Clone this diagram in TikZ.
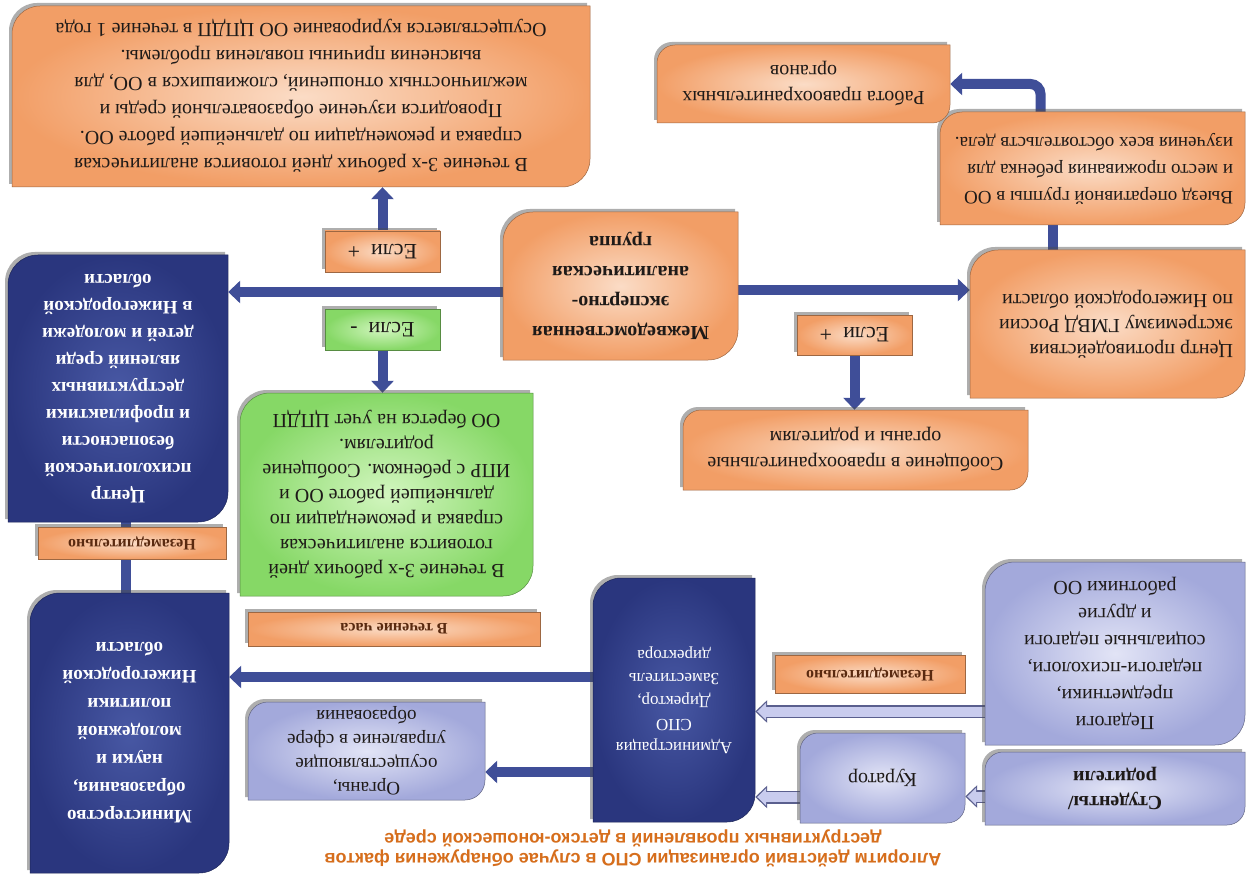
\documentclass[tikz,border=0pt]{standalone}
\usepackage{fontspec}
\setmainfont{Liberation Serif}
\newfontfamily\ttlfont{Liberation Sans}
\usetikzlibrary{arrows.meta,shadows,calc}
\pgfdeclarelayer{back}
\pgfdeclarelayer{bg}
\pgfsetlayers{back,bg,main}
\definecolor{orO}{HTML}{F29E66}
\definecolor{orI}{HTML}{FBDCC6}
\definecolor{grO}{HTML}{86D866}
\definecolor{grI}{HTML}{D2F6BF}
\definecolor{dbO}{HTML}{2A367E}
\definecolor{dbI}{HTML}{4858A4}
\definecolor{lvO}{HTML}{A3A9DB}
\definecolor{lvI}{HTML}{E2E4F6}
\definecolor{arB}{HTML}{3F4E98}
\definecolor{lvD}{HTML}{5A5F8E}
\definecolor{lvF}{HTML}{C9CCEE}
\definecolor{brn}{HTML}{5A2A10}
\definecolor{ttl}{HTML}{D66E1C}
\definecolor{txt}{HTML}{1E1A18}
\tikzset{
 shad/.style={drop shadow={shadow xshift=-3pt, shadow yshift=3pt, opacity=0.45, fill=black!70}},
 orbox/.style={shad, inner color=orI, outer color=orO, draw=orO!65!black, line width=0.5pt},
 grbox/.style={shad, inner color=grI, outer color=grO, draw=grO!65!black, line width=0.5pt},
 dbbox/.style={shad, inner color=dbI, outer color=dbO, draw=dbO!70!black, line width=0.5pt},
 lvbox/.style={shad, inner color=lvI, outer color=lvO, draw=lvO!60!black, line width=0.5pt},
 barrow/.style={draw=arB, line width=10pt, -{Triangle[length=12pt,width=22pt]}},
 bline/.style={draw=arB, line width=10pt},
 lvout/.style={draw=lvD, line width=13pt, -{Triangle[length=12pt,width=22pt]}},
 lvin/.style={draw=lvF, line width=10pt, shorten >=2pt, -{Triangle[length=9pt,width=17pt]}},
}
\newcommand\dshape[6]{\path[#1] (#2,#3+#6) arc[start angle=180,end angle=90,radius=#6pt] -- (#4,#3) -- (#4,#5-#6) arc[start angle=0,end angle=-90,radius=#6pt] -- (#2,#5) -- cycle;}
\newcommand\bx[9]{%
 \dshape{#6}{#2}{#3}{#4}{#5}{#7}%
 \node[inner sep=0pt, minimum width={(#4-#2)*1pt}, minimum height={(#5-#3)*1pt}] (#1) at ({(#2+#4)/2},{(#3+#5)/2}) {\rotatebox{180}{\parbox{\dimexpr #4pt-#2pt-24pt\relax}{\color{txt}#8#9}}};}
\newcommand\lb[8]{%
 \path[#6] (#2,#3) rectangle (#4,#5);%
 \node[inner sep=0pt, minimum width={(#4-#2)*1pt}, minimum height={(#5-#3)*1pt}] (#1) at ({(#2+#4)/2},{(#3+#5)/2}) {\rotatebox{180}{\color{txt}#7#8}};}
\newcommand\larr[2]{\draw[lvout] #1 -- #2; \draw[lvin] #1 -- #2;}
\begin{document}
\begin{tikzpicture}[x=1pt,y=-1pt]
\begin{pgfonlayer}{back}
\fill[white] (0,0) rectangle (1252,877);
\end{pgfonlayer}
\path[use as bounding box] (0,0) rectangle (1252,877);

\bx{T1}{12}{6}{590}{187}{orbox}{28}{\centering\fontsize{20}{27}\selectfont}{В течение 3-х рабочих дней готовится аналитическая\\справка и рекомендации по дальнейшей работе ОО.\\Проводится изучение образовательной среды и\\межличностных отношений, сложившихся в ОО, для\\выяснения причины появления проблемы.\\Осуществляется курирование ОО ЦПДП в течение 1 года}
\lb{L1}{325}{231}{440}{272}{orbox}{\fontsize{22}{24}\selectfont}{Если\enspace +}
\lb{L2}{325}{309}{440}{350}{grbox}{\fontsize{22}{24}\selectfont}{Если\enspace -}
\bx{M}{503}{212}{738}{360}{orbox}{30}{\centering\bfseries\fontsize{20}{30}\selectfont}{Межведомственная\\экспертно-\\аналитическая\\группа}
\bx{C1}{970}{250}{1245}{398}{orbox}{28}{\raggedright\fontsize{20}{25}\selectfont}{Центр противодействия\\экстремизму ГМВД России\\по Нижегородской области}
\lb{L3}{797}{315}{912}{355}{orbox}{\fontsize{22}{24}\selectfont}{Если\enspace +}
\bx{S}{683}{410}{1028}{490}{orbox}{18}{\centering\fontsize{20}{26}\selectfont}{Сообщение в правоохранительные\\органы и родителям}
\bx{V}{940}{112}{1245}{225}{orbox}{22}{\raggedright\fontsize{19}{27}\selectfont}{Выезд оперативной группы в ОО\\и место проживания ребенка для\\изучения всех обстоятельств дела.}
\bx{W}{657}{45}{950}{123}{orbox}{18}{\centering\fontsize{20}{26}\selectfont}{Работа правоохранительных\\органов}
\bx{BC}{8}{255}{228}{522}{dbbox}{30}{\centering\bfseries\color{white}\fontsize{19}{27}\selectfont}{Центр\\психологической\\безопасности\\и профилактики\\деструктивных\\явлений среди\\детей и молодежи\\в Нижегородской\\области}
\lb{L4}{38}{527}{226}{559}{orbox}{\bfseries\fontsize{16}{18}\selectfont\color{brn}}{Незамедлительно}
\bx{MN}{30}{593}{229}{873}{dbbox}{30}{\centering\bfseries\color{white}\fontsize{19}{28}\selectfont}{Министерство\\образования,\\науки и\\молодежной\\политики\\Нижегородской\\области}
\bx{G}{240}{393}{533}{596}{grbox}{30}{\centering\fontsize{20}{25}\selectfont}{В течение 3-х рабочих дней\\готовится аналитическая\\справка и рекомендации по\\дальнейшей работе ОО и\\ИПР с ребенком. Сообщение\\родителям.\\ОО берется на учет ЦПДП}
\lb{L5}{248}{612}{540}{646}{orbox}{\bfseries\fontsize{16}{18}\selectfont\color{brn}}{В течение часа}
\bx{AD}{593}{578}{755}{822}{dbbox}{28}{\centering\color{white}\fontsize{17}{23}\selectfont}{Администрация\\СПО\\Директор,\\Заместитель\\директора}
\bx{OR}{248}{702}{485}{800}{lvbox}{20}{\centering\fontsize{19}{24}\selectfont}{Органы,\\осуществляющие\\управление в сфере\\образования}
\bx{PD}{985}{562}{1245}{745}{lvbox}{30}{\centering\fontsize{20}{27}\selectfont}{Педагоги\\предметники,\\педагоги-психологи,\\социальные педагоги\\и другие\\работники ОО}
\lb{L6}{775}{655}{965}{693}{orbox}{\bfseries\fontsize{16}{18}\selectfont\color{brn}}{Незамедлительно}
\bx{KR}{800}{733}{965}{823}{lvbox}{18}{\centering\fontsize{20}{24}\selectfont}{Куратор}
\bx{ST}{985}{752}{1245}{825}{lvbox}{18}{\centering\bfseries\fontsize{20}{25}\selectfont}{Студенты/\\родители}
\node[inner sep=0pt] (TT) at (633,848) {\rotatebox{180}{\parbox{720pt}{\centering\ttlfont\bfseries\fontsize{18}{20}\selectfont\color{ttl}Алгоритм действий организации СПО в случае обнаружения фактов\\деструктивных проявлений в детско-юношеской среде}}};

\begin{pgfonlayer}{bg}
\draw[barrow] (L1.north) -- (L1.north |- T1.south);
\draw[barrow] (L2.south) -- (L2.south |- G.north);
\draw[barrow] ([yshift=-6pt]M.west) -- ([yshift=-6pt]M.west -| BC.east);
\draw[barrow] ([yshift=-4pt]M.east) -- ([yshift=-4pt]M.east -| C1.west);
\draw[barrow] (L3.south) -- (L3.south |- S.north);
\draw[bline] ([xshift=-55pt]C1.north) -- ([xshift=-55pt]C1.north |- V.south);
\draw[barrow, rounded corners=10pt] ([xshift=-52pt]V.north) |- (W.east);
\draw[bline] ([xshift=-4pt]MN.north) -- ([xshift=-4pt]MN.north |- BC.south);
\draw[barrow] ([yshift=23pt]AD.west) -- ([yshift=23pt]AD.west -| MN.east);
\draw[barrow] ([yshift=-72pt]AD.west) -- ([yshift=-72pt]AD.west -| OR.east);
\larr{([yshift=-58pt]PD.west)}{([yshift=-58pt]PD.west -| AD.east)}
\larr{([yshift=-8pt]ST.west)}{([yshift=-8pt]ST.west -| KR.east)}
\larr{([yshift=-19pt]KR.west)}{([yshift=-19pt]KR.west -| AD.east)}
\end{pgfonlayer}
\end{tikzpicture}
\end{document}
